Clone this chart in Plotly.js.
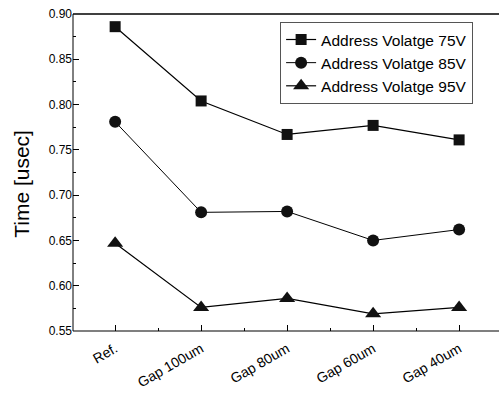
<!DOCTYPE html>
<html><head><meta charset="utf-8">
<script src="https://cdn.plot.ly/plotly-3.0.1.min.js"></script>
<style>html,body{margin:0;padding:0;overflow:hidden;background:#fff}</style>
</head><body><div id="chart" style="width:499px;height:394px"></div>
<script>
const categories = ["Ref.", "Gap 100um", "Gap 80um", "Gap 60um", "Gap 40um"];
const v75 = [0.886, 0.804, 0.767, 0.777, 0.761];
const v85 = [0.781, 0.681, 0.682, 0.650, 0.662];
const v95 = [0.647, 0.576, 0.586, 0.569, 0.576];
const names = ["Address Volatge 75V", "Address Volatge 85V", "Address Volatge 95V"];
const idx = categories.map((_, i) => i);

function tr(y, name, sym, size, lw) {
  return {x: idx, y: y, name: name, type: "scatter", mode: "lines+markers",
    line: {color: "#000", width: lw},
    marker: {symbol: sym, size: size, color: "#111", line: {width: 0}}};
}
const data = [
  tr(v75, names[0], "square", 11, 1.2),
  tr(v85, names[1], "circle", 12, 1),
  tr(v95, names[2], "triangle-up", 14, 1.2)
];
const layout = {
  width: 499, height: 394,
  margin: {l: 73, r: 30, t: 14, b: 63},
  paper_bgcolor: "#fff", plot_bgcolor: "#fff",
  font: {family: "Liberation Sans, Arial, sans-serif", color: "#000"},
  showlegend: true,
  legend: {x: 0.523, y: 0.975, xanchor: "left", yanchor: "top",
    bgcolor: "#fff", bordercolor: "#555", borderwidth: 1,
    font: {size: 15.5}, tracegroupgap: 0, itemwidth: 30},
  xaxis: {
    range: [-0.49, 4.115], tickmode: "array", tickvals: idx, ticktext: categories,
    tickangle: -30, tickfont: {size: 14}, ticks: "inside", ticklen: 6, tickcolor: "#000",
    ticklabelstandoff: 6,
    showline: false, mirror: false,
    showgrid: false, zeroline: false,
    minor: {tickvals: [0.5, 1.5, 2.5, 3.5], ticks: "inside", ticklen: 3, tickcolor: "#000"}
  },
  yaxis: {
    range: [0.55, 0.90], dtick: 0.05, tickformat: ".2f", tickfont: {size: 12},
    ticks: "inside", ticklen: 6, tickcolor: "#000",
    showline: false, zeroline: false, showgrid: false,
    minor: {dtick: 0.025, ticks: "inside", ticklen: 3, tickcolor: "#000"}
  },
  shapes: [
    {type: "line", xref: "paper", yref: "paper", x0: 0, x1: 1.1, y0: 1, y1: 1,
      line: {color: "#000", width: 1.5}},
    {type: "line", xref: "paper", yref: "paper", x0: 0, x1: 1.1, y0: 0, y1: 0,
      line: {color: "#000", width: 1.2}},
    {type: "line", xref: "paper", yref: "paper", x0: 0, x1: 0, y0: 0, y1: 1,
      line: {color: "#000", width: 1}}
  ],
  annotations: [{text: "Time [usec]", xref: "paper", yref: "paper",
    x: -0.129, y: 0.464, xanchor: "center", yanchor: "middle", textangle: -90,
    showarrow: false, font: {size: 21}}]
};
Plotly.newPlot("chart", data, layout, {displayModeBar: false, staticPlot: true});
</script></body></html>
